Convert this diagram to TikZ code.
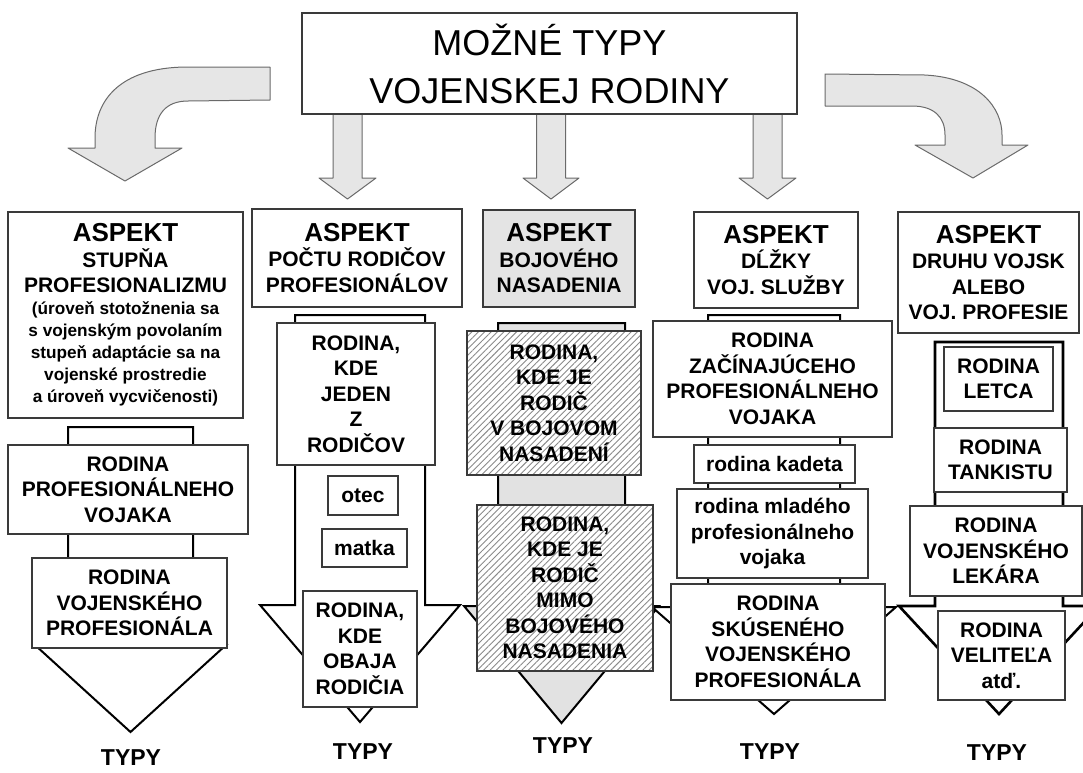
\documentclass[tikz,border=0pt]{standalone}
\usepackage{fontspec}
\setmainfont{Liberation Sans}
\usetikzlibrary{patterns.meta}
\definecolor{boxline}{HTML}{3A3A3A}
\definecolor{arrfill}{HTML}{E6E6E6}
\definecolor{arrline}{HTML}{6A6A6A}
\definecolor{aspfill}{HTML}{E4E4E4}
\definecolor{hatchcol}{HTML}{8A8A8A}
\definecolor{shaftgray}{HTML}{E2E2E2}
\newcommand{\aspk}{\fontsize{26}{30}\selectfont ASPEKT\\\fontsize{21}{25.5}\selectfont}
\newcommand{\smalltxt}{\fontsize{17.2}{21.8}\selectfont}
\begin{document}
\begin{tikzpicture}[x=1pt,y=-1pt,
  box/.style={draw=boxline, line width=1.4pt, fill=white, inner sep=0pt, align=center, font=\bfseries\fontsize{21}{25.5}\selectfont},
  sz/.style 2 args={minimum width=#1pt, minimum height=#2pt},
  hatchbox/.style={box, preaction={fill=white}, pattern={Lines[angle=45,distance=4.5pt,line width=0.9pt]}, pattern color=hatchcol},
  toparrow/.style={fill=arrfill, draw=arrline, line width=1pt, line join=round},
  blockarrow/.style={fill=white, draw=black, line width=2pt, line join=miter},
  typy/.style={font=\bfseries\fontsize{23}{25}\selectfont, inner sep=0pt}
]
\useasboundingbox (0,0) rectangle (1083,772);
\fill[white] (0,0) rectangle (1083,772);
\begin{scope}
\clip (0,0) rectangle (1083,772);

% curved arrows
\draw[toparrow] (270,67) -- (185,67) .. controls (120,68) and (95,100) .. (95,138) -- (95,148) -- (68,148) -- (125,181) -- (182,148) -- (155,148) -- (155,138) .. controls (155,114) and (166,101) .. (188,101) -- (270,100) -- cycle;
\draw[toparrow] (825,74) -- (925,75) .. controls (980,78) and (1002,108) .. (1002,135) -- (1002,145) -- (1028,145) -- (973,178) -- (915,145) -- (945,145) -- (945,135) .. controls (945,117) and (934,106) .. (912,106) -- (825,106) -- cycle;

% straight arrows
\draw[toparrow] (333,114) -- (362,114) -- (362,178) -- (376,178) -- (347.5,199) -- (319,178) -- (333,178) -- cycle;
\draw[toparrow] (536.5,114) -- (565.5,114) -- (565.5,178) -- (579,178) -- (551,199) -- (523,178) -- (536.5,178) -- cycle;
\draw[toparrow] (753,114) -- (782,114) -- (782,178) -- (796,178) -- (767.5,199) -- (739,178) -- (753,178) -- cycle;

% column block arrows
\draw[blockarrow] (68,427) -- (193,427) -- (193,645) -- (226,645) -- (130.5,732) -- (35,645) -- (68,645) -- cycle;
\draw[blockarrow] (295,315) -- (425,315) -- (425,605) -- (460,605) -- (360,722) -- (260,605) -- (295,605) -- cycle;
\draw[blockarrow, fill=shaftgray] (498,323) -- (625,323) -- (625,606) -- (659,606) -- (561.5,723) -- (464,606) -- (498,606) -- cycle;
\draw[blockarrow] (708,315) -- (840,315) -- (840,607) -- (896,607) -- (774,714) -- (652,607) -- (708,607) -- cycle;
\draw[blockarrow, line width=2.6pt] (935,342) -- (1063,342) -- (1063,606) -- (1099,606) -- (999,714) -- (899,606) -- (935,606) -- cycle;
\end{scope}

% title
\node[draw=boxline, line width=1.4pt, fill=white, sz={495}{101}, align=center, inner sep=0pt, font=\fontsize{36}{48}\selectfont] (title) at (549.5,63.5) {MOŽNÉ TYPY\\VOJENSKEJ RODINY};

% aspect boxes
\node[box, sz={235}{206}] (a1) at (125.5,315) {\aspk STUPŇA\\PROFESIONALIZMU\\[-3.5pt]\smalltxt (úroveň stotožnenia sa\\[-3.5pt]\smalltxt s vojenským povolaním\\[-3.5pt]\smalltxt stupeň adaptácie sa na\\[-3.5pt]\smalltxt vojenské prostredie\\[-3.5pt]\smalltxt a úroveň vycvičenosti)};
\node[box, sz={210}{98}] (a2) at (357,258) {\aspk POČTU RODIČOV\\PROFESIONÁLOV};
\node[box, sz={152}{97}, fill=aspfill] (a3) at (559,258.5) {\aspk BOJOVÉHO\\NASADENIA};
\node[box, sz={164}{96}] (a4) at (776,260) {\aspk DĹŽKY\\VOJ. SLUŽBY};
\node[box, sz={181}{121}] (a5) at (988.5,272.5) {\aspk DRUHU VOJSK\\ALEBO\\VOJ. PROFESIE};

% column 1
\node[box, sz={240}{89}] (r11) at (128,489.5) {RODINA\\PROFESIONÁLNEHO\\VOJAKA};
\node[box, sz={195}{90}] (r12) at (129.5,603) {RODINA\\VOJENSKÉHO\\PROFESIONÁLA};

% column 2
\node[box, sz={158}{142}] (r21) at (356,394) {RODINA,\\KDE\\JEDEN\\Z\\RODIČOV};
\node[box, sz={70}{39}] (otec) at (363,495.5) {otec};
\node[box, sz={85}{38}] (matka) at (364.5,548) {matka};
\node[box, sz={114}{116}] (r22) at (360,649) {RODINA,\\KDE\\OBAJA\\RODIČIA};

% column 3
\node[hatchbox, sz={174}{144}] (r31) at (554,403) {RODINA,\\KDE JE\\RODIČ\\V BOJOVOM\\NASADENÍ};
\node[hatchbox, sz={176}{166}] (r32) at (565,588) {RODINA,\\KDE JE\\RODIČ\\MIMO\\BOJOVÉHO\\NASADENIA};

% column 4
\node[box, sz={239}{116}] (r41) at (772.5,379) {RODINA\\ZAČÍNAJÚCEHO\\PROFESIONÁLNEHO\\VOJAKA};
\node[box, sz={161}{38}] (kadet) at (774.5,464) {rodina kadeta};
\node[box, sz={191}{89}] (mlad) at (772.5,533.5) {rodina mladého\\profesionálneho\\vojaka};
\node[box, sz={214}{116}] (r44) at (778,642) {RODINA\\SKÚSENÉHO\\VOJENSKÉHO\\PROFESIONÁLA};

% column 5
\node[box, sz={109}{64}] (letca) at (998.5,379) {RODINA\\LETCA};
\node[box, sz={133}{64}] (tank) at (1000.5,460) {RODINA\\TANKISTU};
\node[box, sz={172}{90}] (lekar) at (996,551) {RODINA\\VOJENSKÉHO\\LEKÁRA};
\node[box, sz={127}{89}] (velit) at (1001.5,655.5) {RODINA\\VELITEĽA\\atď.};

% TYPY labels
\node[typy] (t1) at (131,758) {TYPY};
\node[typy] (t2) at (363,752) {TYPY};
\node[typy] (t3) at (563,746) {TYPY};
\node[typy] (t4) at (770,752) {TYPY};
\node[typy] (t5) at (997,753) {TYPY};
\end{tikzpicture}
\end{document}
